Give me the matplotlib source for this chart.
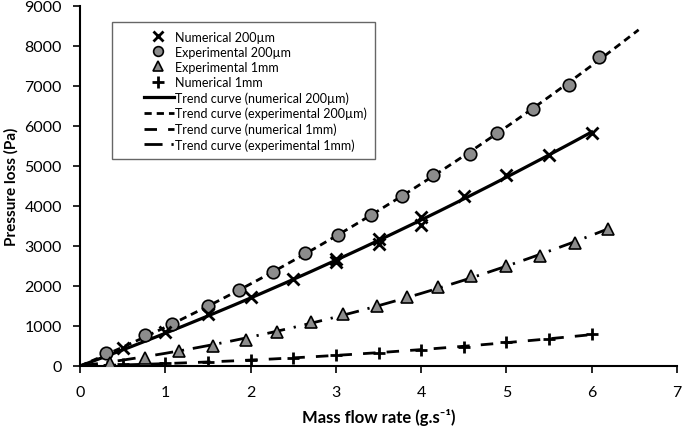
import numpy as np
import matplotlib
matplotlib.use("Agg")
import matplotlib.pyplot as plt
from matplotlib.lines import Line2D
from matplotlib.legend_handler import HandlerBase

plt.rcParams['font.family'] = ['Lato', 'DejaVu Sans']

# ---- data ----
num200_x = [0.5, 1.0, 1.5, 2.0, 2.5, 3.0, 3.0, 3.5, 3.5, 4.0, 4.0, 4.5, 5.0, 5.5, 6.0]
num200_y = [441, 840, 1297, 1713, 2170, 2594, 2668, 3042, 3167, 3516, 3716, 4247, 4763, 5287, 5828]

exp200_x = [0.30, 0.76, 1.08, 1.50, 1.87, 2.26, 2.64, 3.03, 3.41, 3.77, 4.14, 4.57, 4.89, 5.31, 5.73, 6.09]
exp200_y = [324, 773, 1047, 1504, 1903, 2352, 2818, 3267, 3766, 4247, 4763, 5312, 5828, 6426, 7032, 7723]

exp1mm_x = [0.35, 0.76, 1.16, 1.56, 1.95, 2.31, 2.71, 3.08, 3.48, 3.84, 4.20, 4.59, 4.99, 5.39, 5.80, 6.19]
exp1mm_y = [80, 192, 382, 491, 656, 855, 1090, 1297, 1504, 1713, 1978, 2252, 2501, 2756, 3067, 3434]

num1mm_x = [0.5, 1.0, 1.5, 2.0, 2.5, 3.0, 3.5, 4.0, 4.5, 5.0, 5.5, 6.0]
num1mm_y = [40, 70, 107, 150, 192, 270, 335, 405, 480, 590, 680, 790]

# trend-curve x extents (start, end)
trend_num200_range = [0.0, 6.0]
trend_exp200_range = [0.0, 6.55]
trend_num1mm_range = [0.0, 6.0]
trend_exp1mm_range = [0.0, 6.2]

x_ticks = [0, 1, 2, 3, 4, 5, 6, 7]
y_ticks = [0, 1000, 2000, 3000, 4000, 5000, 6000, 7000, 8000, 9000]

labels = ["Numerical 200µm", "Experimental 200µm", "Experimental 1mm", "Numerical 1mm",
          "Trend curve (numerical 200µm)", "Trend curve (experimental 200µm)",
          "Trend curve (numerical 1mm)", "Trend curve (experimental 1mm)"]


def trend(xs, ys, rng):
    xs = np.asarray(xs, float)
    ys = np.asarray(ys, float)
    A = np.column_stack([xs, xs ** 2])
    coef, *_ = np.linalg.lstsq(A, ys, rcond=None)
    xx = np.linspace(rng[0], rng[1], 200)
    return xx, coef[0] * xx + coef[1] * xx ** 2


class RightHandler(HandlerBase):
    """Markers placed at a fraction of the handle box; lines drawn in its right part."""
    def __init__(self, line_start=0.45, marker_pos=0.70):
        super().__init__()
        self.line_start = line_start
        self.marker_pos = marker_pos

    def create_artists(self, legend, orig_handle, xdescent, ydescent, width, height,
                       fontsize, trans):
        y = height / 2 - ydescent
        a = Line2D([], [])
        a.update_from(orig_handle)
        if orig_handle.get_linestyle() in ('None', 'none', '', ' '):
            x = self.marker_pos * width - xdescent
            a.set_data([x], [y])
        else:
            a.set_data([self.line_start * width - xdescent, width - xdescent], [y, y])
        a.set_transform(trans)
        return [a]


fig = plt.figure(figsize=(6.83, 4.35), dpi=100)
ax = fig.add_axes([80 / 683, 1 - 367 / 435, 597 / 683, 360 / 435])

gray = '#8c8c8c'
ls_solid = '-'
ls_exp200 = (0, (2.6, 1.8))
ls_num1mm = (0, (4.5, 4.0))
ls_exp1mm = (0, (6.5, 3.2, 0.8, 3.2))

# trend curves
xx, yy = trend(num200_x, num200_y, trend_num200_range)
ax.plot(xx, yy, color='black', lw=2.3, ls=ls_solid, zorder=2)
xx, yy = trend(exp200_x, exp200_y, trend_exp200_range)
ax.plot(xx, yy, color='black', lw=2.0, ls=ls_exp200, zorder=2)
xx, yy = trend(num1mm_x, num1mm_y, trend_num1mm_range)
ax.plot(xx, yy, color='black', lw=2.0, ls=ls_num1mm, zorder=2)
xx, yy = trend(exp1mm_x, exp1mm_y, trend_exp1mm_range)
ax.plot(xx, yy, color='black', lw=2.0, ls=ls_exp1mm, zorder=2)

# markers
ax.plot(num200_x, num200_y, ls='none', marker='x', ms=9, mew=2, color='black', zorder=4)
ax.plot(exp200_x, exp200_y, ls='none', marker='o', ms=9, mfc=gray, mec='black', mew=1.2, zorder=3)
ax.plot(exp1mm_x, exp1mm_y, ls='none', marker='^', ms=9, mfc=gray, mec='black', mew=1.2, zorder=3)
ax.plot(num1mm_x, num1mm_y, ls='none', marker='+', ms=9, mew=2, color='black', zorder=4)

ax.set_xlim(0, 7)
ax.set_ylim(0, 9000)
ax.set_xticks(x_ticks)
ax.set_yticks(y_ticks)
ax.set_xticklabels([str(v) for v in x_ticks])
ax.set_yticklabels([str(v) for v in y_ticks])
ax.tick_params(direction='out', length=5, width=1.2, labelsize=11.5)
ax.tick_params(axis='y', pad=8)
ax.tick_params(axis='x', pad=9)
for s in ['top', 'right']:
    ax.spines[s].set_visible(False)
for s in ['left', 'bottom']:
    ax.spines[s].set_linewidth(1.5)

ax.set_xlabel('Mass flow rate (g.s\u207b\u00b9)', fontsize=12, fontweight='bold', labelpad=6)
ax.set_ylabel('Pressure loss (Pa)', fontsize=11, fontweight='bold', labelpad=4)

handles = [
    Line2D([], [], ls='none', marker='x', ms=7, mew=2, color='black'),
    Line2D([], [], ls='none', marker='o', ms=7, mfc=gray, mec='black', mew=1.2),
    Line2D([], [], ls='none', marker='^', ms=7, mfc=gray, mec='black', mew=1.2),
    Line2D([], [], ls='none', marker='+', ms=8, mew=2, color='black'),
    Line2D([], [], color='black', lw=2.3, ls=ls_solid),
    Line2D([], [], color='black', lw=2.0, ls=ls_exp200),
    Line2D([], [], color='black', lw=2.0, ls=ls_num1mm),
    Line2D([], [], color='black', lw=2.0, ls=ls_exp1mm),
]
hmap = {h: RightHandler(0.45, 0.70) for h in handles}
leg = ax.legend(handles, labels, handler_map=hmap, loc='upper left',
                bbox_to_anchor=(32 / 597, 1 - 16 / 360),
                fontsize=9, frameon=True, fancybox=False, handlelength=4.25,
                handletextpad=0.1, borderpad=0.68, labelspacing=0.25, borderaxespad=0)
leg.get_frame().set_edgecolor('#404040')
leg.get_frame().set_linewidth(1.0)

fig.savefig('out.png', dpi=100)
